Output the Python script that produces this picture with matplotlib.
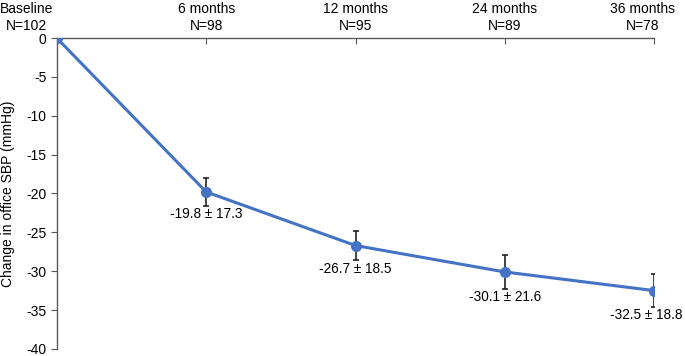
import matplotlib.pyplot as plt
import matplotlib.transforms as mtransforms

plt.rcParams['font.family'] = ['Liberation Sans', 'DejaVu Sans']
plt.rcParams['axes.unicode_minus'] = False

# Data
timepoints = ["Baseline\nN=102", "6 months\nN=98", "12 months\nN=95", "24 months\nN=89", "36 months\nN=78"]
change = [0, -19.8, -26.7, -30.1, -32.5]
sd = [None, 17.3, 18.5, 21.6, 18.8]
err = [0, 1.8, 1.9, 2.2, 2.1]

x = list(range(len(timepoints)))

fig = plt.figure(figsize=(6.85, 3.56), dpi=100)
ax = fig.add_axes([0.083, 0.02, 0.872, 0.873])

ax.errorbar(x, change, yerr=err, fmt='none', ecolor='#222222', elinewidth=1.2,
            capsize=2.5, capthick=1.2, zorder=2)
ax.plot(x, change, '-o', color='#4472C4', linewidth=2.2, markersize=7, zorder=3)

for xi, yi, s, e in zip(x, change, sd, err):
    if s is None:
        continue
    dx = -6 if xi == x[-1] else 0  # keep last label inside the figure
    ax.annotate(f"{yi:.1f} \u00b1 {s:.1f}", (xi, yi - e), xytext=(dx, -1),
                textcoords='offset points', ha='center', va='top', fontsize=9.8)

ax.set_xlim(0, 4)
ax.set_ylim(-40, 0)
ax.set_yticks(range(-40, 1, 5))
ax.xaxis.tick_top()
ax.set_xticks(x)
ax.set_xticklabels(timepoints, fontsize=10, linespacing=1.25)
ax.tick_params(axis='x', direction='in', length=4, pad=4)
ax.tick_params(axis='y', direction='out', length=4, labelsize=10)
ax.set_ylabel("Change in office SBP (mmHg)", fontsize=10)
ax.yaxis.set_label_coords(-0.07, 0.5)

# Excel keeps edge labels inside the chart area
labels = ax.get_xticklabels()
labels[0].set_transform(labels[0].get_transform() +
                        mtransforms.ScaledTranslation(-0.30, 0, fig.dpi_scale_trans))
labels[-1].set_transform(labels[-1].get_transform() +
                         mtransforms.ScaledTranslation(-0.12, 0, fig.dpi_scale_trans))

for side in ['right', 'bottom']:
    ax.spines[side].set_visible(False)
for side in ['left', 'top']:
    ax.spines[side].set_color('#595959')
    ax.spines[side].set_linewidth(1.0)
ax.tick_params(colors='#595959', labelcolor='black')

fig.savefig("out.png", dpi=100)
